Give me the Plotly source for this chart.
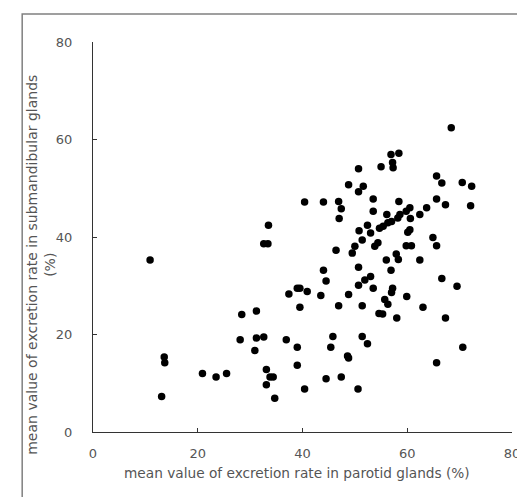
import plotly.graph_objects as go

# mean excretion rate (%) — parotid (x) vs submandibular (y)
parotid = [
    68.4, 56.9, 58.4, 57.2, 57.3, 50.7, 55.0, 48.8, 51.6, 50.7,
    65.6, 66.6, 70.5, 72.3, 72.1, 40.4, 44.0, 46.9, 47.4, 47.0,
    53.5, 53.5, 58.4, 65.6, 67.3, 63.7, 62.4, 60.5, 59.8, 58.6,
    58.2, 56.1, 57.0, 56.3, 55.4, 54.7, 60.6, 52.4, 53.0, 50.8,
    51.4, 60.1, 60.5, 64.9, 65.6, 59.8, 60.8, 54.4, 53.8, 50.0,
    49.5, 46.4, 56.0, 57.9, 58.3, 62.4, 44.0, 50.7, 56.9, 66.6,
    33.5, 32.6, 33.4, 10.9, 44.5, 53.0, 51.9, 50.7, 53.5, 57.2,
    57.0, 69.5, 39.0, 39.5, 37.4, 40.9, 43.5, 48.8, 59.9, 55.7,
    56.3, 54.6, 55.3, 39.5, 46.9, 51.4, 58.0, 63.0, 67.3, 28.4,
    31.2, 28.1, 31.2, 32.6, 30.9, 36.9, 39.0, 45.8, 45.4, 51.4,
    52.4, 48.6, 48.8, 39.0, 44.5, 47.4, 40.4, 50.6, 70.6, 65.6,
    13.6, 13.7, 20.9, 23.5, 25.5, 33.1, 33.8, 34.4, 33.1, 13.1,
    34.7,
]
submandibular = [
    62.4, 56.9, 57.2, 55.3, 54.2, 54.0, 54.4, 50.7, 50.4, 49.3,
    52.5, 51.1, 51.2, 50.4, 46.4, 47.2, 47.2, 47.3, 45.8, 43.8,
    47.8, 45.3, 47.3, 47.8, 46.6, 46.0, 44.6, 46.0, 45.3, 44.6,
    43.9, 44.6, 43.2, 42.9, 42.2, 41.8, 43.8, 42.4, 40.8, 41.3,
    39.4, 41.0, 41.5, 39.9, 38.2, 38.2, 38.2, 38.8, 38.1, 38.1,
    36.7, 37.3, 35.3, 36.5, 35.4, 35.3, 33.2, 33.8, 33.2, 31.5,
    42.4, 38.6, 38.6, 35.3, 31.0, 31.9, 31.2, 30.1, 29.5, 29.5,
    28.6, 29.9, 29.5, 29.5, 28.3, 28.8, 28.0, 28.2, 27.8, 27.2,
    26.2, 24.3, 24.2, 25.6, 25.9, 25.9, 23.4, 25.6, 23.4, 24.1,
    24.8, 18.9, 19.3, 19.5, 16.7, 18.9, 17.4, 19.6, 17.4, 19.6,
    18.1, 15.6, 15.2, 13.7, 10.9, 11.3, 8.8, 8.8, 17.4, 14.2,
    15.4, 14.2, 12.0, 11.3, 12.0, 12.8, 11.3, 11.3, 9.7, 7.3,
    6.9,
]

tick_vals = [0, 20, 40, 60, 80]
x_title = "mean value of excretion rate in parotid glands (%)"
y_title = "mean value of excretion rate in submandibular glands<br>(%)"

FONT = "DejaVu Sans, Liberation Sans, sans-serif"
GREY = "#555555"

fig = go.Figure(go.Scatter(
    x=parotid, y=submandibular, mode="markers",
    marker=dict(color="black", size=7.5, line=dict(width=0)),
    hoverinfo="x+y",
))

axis_common = dict(
    range=[0, 80], tickvals=tick_vals, ticks="inside", ticklen=4,
    tickcolor="#333", showline=True, linecolor="#333", linewidth=1,
    showgrid=False, zeroline=False, mirror=False,
    tickfont=dict(family=FONT, size=13, color=GREY),
)

fig.update_layout(
    width=525, height=497,
    margin=dict(l=85, r=21, t=34, b=73),
    paper_bgcolor="white", plot_bgcolor="white",
    showlegend=False,
    xaxis=dict(**axis_common, ticklabelstandoff=9),
    yaxis=dict(**axis_common, ticklabelstandoff=17),
    annotations=[
        dict(text=x_title, xref="paper", yref="paper", x=0.488, y=-0.105,
             xanchor="center", yanchor="middle", showarrow=False,
             font=dict(family=FONT, size=13.7, color=GREY)),
        dict(text=y_title, xref="paper", yref="paper", x=-0.123, y=0.43,
             xanchor="center", yanchor="middle", showarrow=False, textangle=-90,
             font=dict(family=FONT, size=14, color=GREY)),
    ],
    shapes=[
        dict(type="rect", xref="paper", yref="paper",
             x0=-0.169, x1=1.036, y0=-0.172, y1=1.072,
             line=dict(color="#808080", width=1.5)),
    ],
)

fig.write_html("out.html")
